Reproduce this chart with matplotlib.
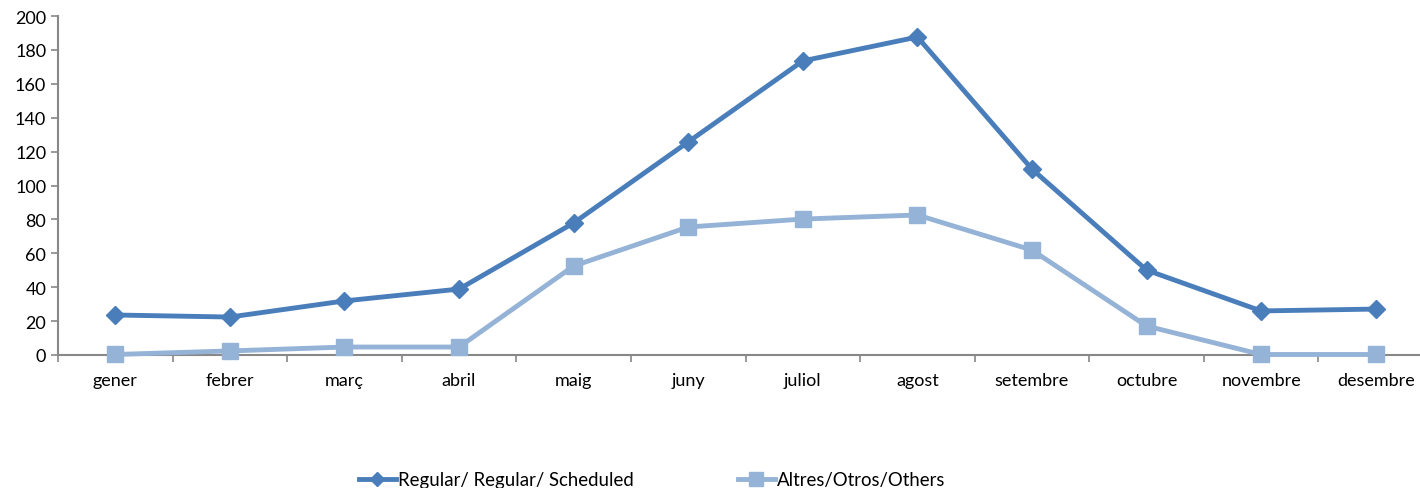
import numpy as np
import matplotlib.pyplot as plt

months = ["gener", "febrer", "març", "abril", "maig", "juny", "juliol",
          "agost", "setembre", "octubre", "novembre", "desembre"]
regular = [23.6, 22.4, 31.9, 38.9, 77.9, 125.7, 173.5, 187.6, 109.7, 50.1, 26.0, 27.1]
others = [0.3, 2.4, 4.7, 4.7, 52.5, 75.5, 80.2, 82.6, 61.9, 17.1, 0.3, 0.3]
labels = ["Regular/ Regular/ Scheduled", "Altres/Otros/Others"]

plt.rcParams['font.family'] = ['Lato', 'DejaVu Sans']

fig = plt.figure(figsize=(14.2, 4.89), dpi=100)
ax = fig.add_axes([58 / 1420, 133 / 489, 1375 / 1420, 339 / 489])

x = np.arange(len(months))
ax.plot(x, regular, color="#4A7EBB", lw=3.5, marker="D", ms=9,
        mec="#4A7EBB", mfc="#4A7EBB", label=labels[0], clip_on=False, zorder=3)
ax.plot(x, others, color="#95B3D7", lw=3.5, marker="s", ms=12,
        mec="#95B3D7", mfc="#95B3D7", label=labels[1], clip_on=False, zorder=3)

ax.set_xlim(-0.5, len(months) - 0.5)
ax.set_ylim(0, 200)
ax.set_yticks(range(0, 201, 20))
ax.set_xticks(x)
ax.set_xticklabels(months)
ax.set_xticks(np.arange(-0.5, len(months), 1), minor=True)
ax.tick_params(axis="x", which="major", length=0, pad=12, labelsize=13)
ax.tick_params(axis="x", which="minor", length=5, color="#888888", width=1.2)
ax.tick_params(axis="y", length=5, color="#888888", width=1.2, labelsize=13)
for s in ["top", "right"]:
    ax.spines[s].set_visible(False)
for s in ["left", "bottom"]:
    ax.spines[s].set_color("#888888")
    ax.spines[s].set_linewidth(1.5)

fig.legend(loc="lower left", bbox_to_anchor=(342 / 1420, -0.035), ncol=2,
           frameon=False, fontsize=13.4, columnspacing=5.6, handlelength=2.0,
           handletextpad=0.1, markerscale=0.8)

fig.savefig("out.png", dpi=100)
